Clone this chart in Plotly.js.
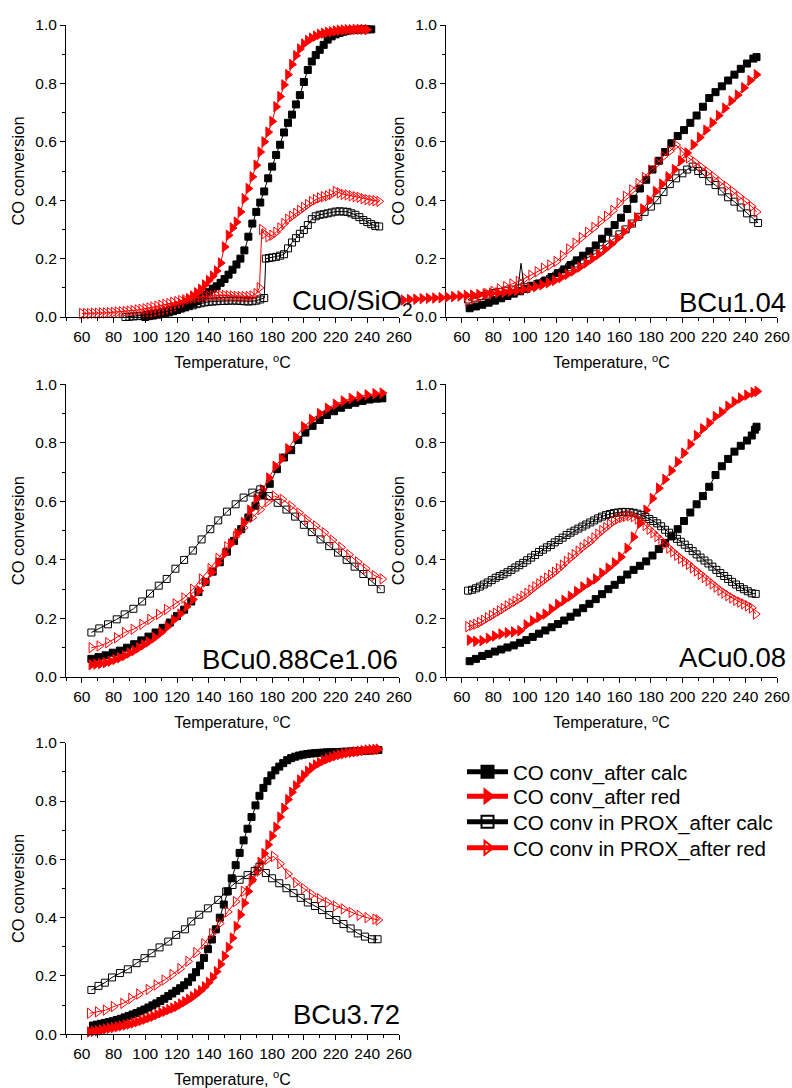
<!DOCTYPE html>
<html>
<head>
<meta charset="utf-8">
<script src="https://cdn.plot.ly/plotly-3.0.1.min.js"></script>
<style>html,body{margin:0;padding:0;background:#fff}#chart{width:792px;height:1088px}</style>
</head>
<body>
<div id="chart"></div>
<script>
// ---------- Panel 1: CuO/SiO2 ----------
const CU_calc_T = [100,102.5,105,107.5,110,112.5,115,117.5,120,122.5,125,127.5,130,132.5,135,137.5,140,142.5,145,147.5,150,152.5,155,157.5,160,162.5,165,167.5,170,172.5,175,177.5,180,182.5,185,187.5,190,192.5,195,197.5,200,202.5,205,207.5,210,212.5,215,217.5,220,222.5,225,227.5,230,232.5,235,237.5,240,242.5];
const CU_calc = [0.0,0.003,0.005,0.008,0.01,0.013,0.016,0.02,0.024,0.029,0.034,0.04,0.047,0.055,0.064,0.075,0.085,0.097,0.105,0.117,0.13,0.145,0.162,0.18,0.2,0.228,0.275,0.32,0.36,0.392,0.43,0.475,0.515,0.555,0.59,0.632,0.665,0.693,0.728,0.76,0.805,0.846,0.875,0.897,0.915,0.932,0.95,0.961,0.968,0.973,0.977,0.98,0.982,0.983,0.984,0.985,0.985,0.985];
const CU_red_T = [100,102.5,105,107.5,110,112.5,115,117.5,120,122.5,125,127.5,130,132.5,135,137.5,140,142.5,145,147.5,150,152.5,155,157.5,160,162.5,165,167.5,170,172.5,175,177.5,180,182.5,185,187.5,190,192.5,195,197.5,200,202.5,205,207.5,210,212.5,215,217.5,220,222.5,225,227.5,230,232.5,235,237.5,240];
const CU_red = [0.008,0.01,0.012,0.015,0.018,0.022,0.027,0.032,0.038,0.045,0.053,0.062,0.072,0.083,0.095,0.11,0.125,0.14,0.158,0.185,0.24,0.28,0.305,0.325,0.36,0.405,0.44,0.48,0.52,0.565,0.6,0.633,0.67,0.72,0.755,0.795,0.83,0.865,0.895,0.918,0.935,0.947,0.955,0.962,0.968,0.972,0.975,0.977,0.98,0.982,0.983,0.984,0.984,0.985,0.985,0.985,0.984];
const CU_proxCalc_T = [87.5,90,92.5,95,97.5,100,102.5,105,107.5,110,112.5,115,117.5,120,122.5,125,127.5,130,132.5,135,137.5,140,142.5,145,147.5,150,152.5,155,157.5,160,162.5,165,167.5,170,172.5,175,176,178,180,182.5,185,187.5,190,192.5,195,197.5,200,202.5,205,207.5,210,212.5,215,217.5,220,222.5,225,227.5,230,232.5,235,237.5,240,242.5,245,247.5];
const CU_proxCalc = [0.0,0.001,0.002,0.003,0.004,0.006,0.008,0.01,0.012,0.015,0.018,0.021,0.024,0.027,0.03,0.033,0.037,0.04,0.044,0.047,0.05,0.052,0.053,0.054,0.055,0.055,0.056,0.056,0.056,0.055,0.054,0.053,0.054,0.056,0.06,0.065,0.2,0.202,0.204,0.206,0.21,0.215,0.235,0.255,0.27,0.285,0.298,0.315,0.335,0.345,0.35,0.352,0.355,0.358,0.361,0.362,0.361,0.36,0.355,0.35,0.342,0.332,0.325,0.318,0.312,0.31];
const CU_proxRed_T = [60,62.5,65,67.5,70,72.5,75,77.5,80,82.5,85,87.5,90,92.5,95,97.5,100,102.5,105,107.5,110,112.5,115,117.5,120,122.5,125,127.5,130,132.5,135,137.5,140,142.5,145,147.5,150,152.5,155,157.5,160,162.5,165,167.5,170,172,173.5,175,177.5,180,182.5,185,187.5,190,192.5,195,197.5,200,202.5,205,207.5,210,212.5,215,217.5,220,222.5,225,227.5,230,232.5,235,237.5,240,242.5,245,247.5];
const CU_proxRed = [0.012,0.012,0.012,0.013,0.013,0.014,0.014,0.015,0.016,0.017,0.018,0.019,0.02,0.022,0.024,0.026,0.028,0.031,0.034,0.037,0.04,0.043,0.046,0.05,0.053,0.056,0.059,0.062,0.065,0.067,0.069,0.071,0.072,0.073,0.074,0.074,0.074,0.073,0.072,0.071,0.07,0.07,0.07,0.072,0.08,0.1,0.3,0.285,0.275,0.28,0.29,0.305,0.32,0.335,0.345,0.355,0.365,0.375,0.385,0.395,0.402,0.408,0.412,0.415,0.42,0.43,0.425,0.42,0.418,0.415,0.412,0.41,0.405,0.402,0.4,0.398,0.396];

// ---------- Panel 2: BCu1.04 ----------
const B104_calc_T = [65,69,73,77,81,85,89,93,97,101,105,109,113,117,121,125,129,133,137,141,145,149,153,157,161,165,169,173,177,181,185,189,193,197,201,205,209,213,217,221,225,229,233,237,241,245,247];
const B104_calc = [0.03,0.036,0.042,0.049,0.056,0.064,0.072,0.08,0.088,0.096,0.105,0.115,0.125,0.137,0.15,0.163,0.178,0.194,0.21,0.225,0.245,0.268,0.292,0.315,0.34,0.37,0.405,0.44,0.47,0.505,0.535,0.565,0.595,0.62,0.64,0.665,0.69,0.72,0.75,0.77,0.79,0.81,0.83,0.85,0.868,0.885,0.89];
const B104_red_T = [23,27,31,35,39,43,47,51,55,59,63,67,71,75,79,83,87,91,95,99,103,107,111,115,119,123,127,131,135,139,143,147,151,155,159,163,167,171,175,179,183,187,191,195,199,203,207,211,215,219,223,227,231,235,239,243,247];
const B104_red = [0.058,0.06,0.061,0.063,0.064,0.065,0.066,0.068,0.07,0.072,0.074,0.075,0.077,0.079,0.081,0.083,0.085,0.088,0.091,0.095,0.099,0.104,0.11,0.117,0.125,0.135,0.146,0.158,0.171,0.185,0.2,0.215,0.232,0.25,0.27,0.292,0.315,0.34,0.37,0.4,0.43,0.455,0.48,0.505,0.535,0.562,0.59,0.615,0.64,0.665,0.69,0.715,0.74,0.76,0.785,0.81,0.83];
const B104_proxCalc_T = [64,68,72,76,80,84,88,92,96,100,104,108,112,116,120,124,128,132,136,140,144,148,152,156,160,164,168,172,176,180,184,188,192,196,200,203,206.5,210,213,217,221,225,229,233,237,241,245,248];
const B104_proxCalc = [0.06,0.066,0.072,0.077,0.082,0.086,0.09,0.094,0.098,0.102,0.107,0.113,0.12,0.13,0.142,0.155,0.17,0.183,0.194,0.204,0.215,0.232,0.248,0.265,0.283,0.3,0.32,0.343,0.36,0.378,0.4,0.428,0.455,0.475,0.492,0.505,0.515,0.5,0.49,0.465,0.452,0.43,0.41,0.395,0.375,0.355,0.335,0.322];
const B104_spike_T = [95.5,97.6,99.7];
const B104_spike = [0.092,0.184,0.098];
const B104_proxRed_T = [64,68,72,76,80,84,88,92,96,100,104,108,112,116,120,124,128,132,136,140,144,148,152,156,160,164,168,172,176,180,184,188,192,196,200,204,208,212,216,220,224,228,232,236,240,244,247];
const B104_proxRed = [0.055,0.062,0.07,0.08,0.088,0.096,0.104,0.113,0.122,0.132,0.143,0.155,0.167,0.178,0.19,0.21,0.233,0.253,0.272,0.29,0.307,0.328,0.345,0.365,0.39,0.413,0.435,0.457,0.478,0.503,0.527,0.55,0.568,0.589,0.565,0.545,0.53,0.513,0.497,0.48,0.462,0.447,0.43,0.413,0.396,0.378,0.36];

// ---------- Panel 3: BCu0.88Ce1.06 ----------
const B088_calc_T = [66,70.5,75,79.5,84,88.5,93,97.5,102,106.5,111,115.5,120,124.5,129,133.5,138,142.5,147,151.5,156,160.5,165,169.5,174,178.5,183,187.5,192,196.5,201,205.5,210,214.5,219,223.5,228,232.5,237,241.5,246,249.5];
const B088_calc = [0.062,0.068,0.074,0.083,0.09,0.1,0.112,0.125,0.138,0.152,0.168,0.186,0.208,0.23,0.258,0.29,0.325,0.36,0.392,0.428,0.465,0.505,0.545,0.585,0.62,0.66,0.71,0.75,0.775,0.81,0.835,0.858,0.878,0.895,0.908,0.92,0.93,0.937,0.943,0.948,0.951,0.952];
const B088_red_T = [66,69,72,75,78,81,84,87,90,93,96,99,102,106,110,114,118,122,126,130,134,138,142,146,150,154,158,162,166,170,174,178,182,186,190,195,200,205,210,215,220,225,230,235,240,245,249.5];
const B088_red = [0.042,0.044,0.046,0.049,0.054,0.06,0.066,0.073,0.082,0.09,0.1,0.11,0.12,0.135,0.152,0.172,0.195,0.215,0.24,0.265,0.295,0.325,0.358,0.39,0.42,0.455,0.49,0.528,0.57,0.61,0.64,0.68,0.72,0.745,0.78,0.82,0.855,0.88,0.9,0.918,0.932,0.943,0.952,0.958,0.964,0.968,0.97];
const B088_proxCalc_T = [66,71,76.5,82,87,92.5,98,103,108.5,113.5,119,124.5,130,135.5,141,146,151.5,157,162,167.5,172.5,178,183.5,189,194.5,200,205,210.5,216,221.5,227,232,237.5,243,248.5];
const B088_proxCalc = [0.152,0.166,0.18,0.197,0.214,0.233,0.258,0.285,0.312,0.335,0.37,0.4,0.432,0.47,0.505,0.535,0.565,0.59,0.613,0.63,0.641,0.618,0.595,0.572,0.548,0.52,0.495,0.47,0.447,0.425,0.4,0.377,0.352,0.325,0.3];
const B088_proxRed_T = [66,71,76.5,82,87,92.5,98,103,108.5,113.5,119,124.5,130,135.5,141,146,151.5,157,162,167.5,172.5,177,181.5,186.5,192,197,202,207.5,213,218,223.5,228.5,234,239,244.5,249.5];
const B088_proxRed = [0.1,0.106,0.117,0.134,0.152,0.163,0.18,0.197,0.214,0.231,0.25,0.27,0.3,0.335,0.37,0.405,0.445,0.48,0.51,0.545,0.572,0.598,0.618,0.607,0.584,0.561,0.538,0.516,0.493,0.468,0.443,0.418,0.393,0.37,0.347,0.335];

// ---------- Panel 4: ACu0.08 ----------
const A008_calc_T = [65,69,73,77,81,85,89,93,97,101,105,109,113,117,121,125,129,133,137,141,145,149,153,157,161,165,169,173,177,181,185,189,193,197,201,205,209,213,217,221,225,229,233,237,241,244,246,247];
const A008_calc = [0.054,0.062,0.072,0.079,0.087,0.094,0.101,0.108,0.117,0.126,0.137,0.148,0.159,0.17,0.181,0.193,0.206,0.22,0.235,0.25,0.266,0.283,0.3,0.315,0.332,0.35,0.366,0.38,0.395,0.415,0.437,0.458,0.48,0.505,0.533,0.562,0.59,0.618,0.65,0.69,0.72,0.745,0.77,0.79,0.808,0.825,0.845,0.855];
const A008_red_T = [65,69,73,77,81,85,89,93,97,101,105,109,113,117,121,125,129,133,137,141,145,149,153,157,161,165,169,173,177,181,185,189,193,197,201,205,209,213,217,221,225,229,233,237,241,245,247.5];
const A008_red = [0.126,0.122,0.124,0.132,0.14,0.147,0.151,0.154,0.158,0.178,0.192,0.204,0.215,0.232,0.248,0.262,0.276,0.292,0.308,0.322,0.335,0.355,0.372,0.39,0.41,0.44,0.478,0.525,0.57,0.61,0.645,0.675,0.705,0.735,0.765,0.795,0.825,0.848,0.868,0.89,0.905,0.925,0.94,0.953,0.963,0.972,0.976];
const A008_prox_T = [64,66.5,69,71.5,74,76.5,79,81.5,84,86.5,89,91.5,94,96.5,99,101.5,104,106.5,109,111.5,114,116.5,119,121.5,124,126.5,129,131.5,134,136.5,139,141.5,144,146.5,149,151.5,154,156.5,159,161.5,164,166.5,169,171.5,174,176.5,179,181.5,184,186.5,189,191.5,194,196.5,199,201.5,204,206.5,209,211.5,214,216.5,219,221.5,224,226.5,229,231.5,234,236.5,239,241.5,244,246.5];
const A008_proxCalc = [0.295,0.298,0.303,0.309,0.316,0.323,0.331,0.339,0.345,0.351,0.358,0.366,0.374,0.382,0.39,0.399,0.408,0.417,0.427,0.435,0.443,0.451,0.46,0.468,0.476,0.485,0.493,0.5,0.507,0.514,0.521,0.528,0.535,0.542,0.548,0.553,0.557,0.56,0.562,0.564,0.564,0.563,0.561,0.558,0.553,0.547,0.54,0.533,0.525,0.515,0.503,0.493,0.483,0.472,0.462,0.452,0.441,0.43,0.419,0.408,0.398,0.388,0.377,0.366,0.355,0.345,0.335,0.325,0.316,0.307,0.3,0.293,0.286,0.284];
const A008_proxRed = [0.172,0.176,0.18,0.186,0.194,0.202,0.21,0.218,0.226,0.234,0.243,0.251,0.259,0.267,0.276,0.286,0.297,0.308,0.318,0.328,0.338,0.348,0.358,0.37,0.382,0.395,0.407,0.418,0.43,0.442,0.452,0.462,0.475,0.488,0.5,0.51,0.522,0.532,0.54,0.545,0.549,0.551,0.548,0.54,0.53,0.518,0.505,0.493,0.48,0.467,0.454,0.44,0.428,0.416,0.405,0.395,0.385,0.373,0.362,0.351,0.34,0.329,0.318,0.307,0.296,0.287,0.278,0.27,0.262,0.256,0.25,0.243,0.236,0.215];

// ---------- Panel 5: BCu3.72 ----------
const B372_calc_T = [67,69.5,72,74.5,77,79.5,82,84.5,87,89.5,92,94.5,97,99.5,102,104.5,107,109.5,112,114.5,117,119.5,122,124.5,127,129.5,132,134.5,137,139.5,142,144.5,147,149.5,152,154.5,157,159.5,162,164.5,167,169.5,172,174.5,177,179.5,182,184.5,187,189.5,192,194.5,197,199.5,202,204.5,207,209.5,212,214.5,217,219.5,222,224.5,227,229.5,232,234.5,237,239.5,242,244.5,247];
const B372_calc = [0.03,0.033,0.036,0.039,0.042,0.045,0.049,0.053,0.058,0.063,0.068,0.073,0.079,0.085,0.092,0.099,0.106,0.114,0.122,0.131,0.14,0.149,0.158,0.168,0.18,0.195,0.213,0.236,0.262,0.292,0.325,0.36,0.4,0.445,0.49,0.535,0.58,0.622,0.665,0.705,0.745,0.785,0.818,0.845,0.868,0.888,0.905,0.918,0.93,0.94,0.947,0.952,0.956,0.959,0.961,0.963,0.964,0.965,0.966,0.967,0.967,0.968,0.968,0.969,0.969,0.97,0.97,0.971,0.972,0.972,0.973,0.974,0.975];
const B372_red_T = [65,67.5,70,72.5,75,77.5,80,82.5,85,87.5,90,92.5,95,97.5,100,102.5,105,107.5,110,112.5,115,117.5,120,122.5,125,127.5,130,132.5,135,137.5,140,142.5,145,147.5,150,152.5,155,157.5,160,162.5,165,167.5,170,172.5,175,177.5,180,182.5,185,187.5,190,192.5,195,197.5,200,202.5,205,207.5,210,212.5,215,217.5,220,222.5,225,227.5,230,232.5,235,237.5,240,242.5,245,247];
const B372_red = [0.008,0.01,0.012,0.015,0.018,0.021,0.023,0.026,0.029,0.032,0.035,0.039,0.043,0.047,0.052,0.057,0.062,0.068,0.074,0.079,0.085,0.09,0.096,0.104,0.112,0.12,0.129,0.139,0.15,0.163,0.178,0.195,0.215,0.24,0.268,0.298,0.33,0.37,0.41,0.45,0.49,0.53,0.56,0.59,0.62,0.65,0.68,0.71,0.745,0.775,0.805,0.83,0.852,0.872,0.888,0.902,0.914,0.924,0.932,0.939,0.945,0.95,0.955,0.959,0.962,0.965,0.967,0.969,0.971,0.973,0.975,0.976,0.977,0.978];
const B372_proxCalc_T = [66,70.5,74.5,79,84,89,94.5,99.5,104,109,114.5,119.5,125,129,134,139.5,146,151,155,159.5,164.5,169,172,176,180,184.5,189,193.5,198,202.5,207,211.5,216,220.5,225,229.5,234,238.5,243,246.5];
const B372_proxCalc = [0.152,0.166,0.177,0.195,0.21,0.223,0.244,0.261,0.278,0.298,0.318,0.341,0.36,0.387,0.41,0.432,0.461,0.49,0.512,0.53,0.546,0.56,0.575,0.553,0.535,0.518,0.501,0.484,0.468,0.452,0.44,0.426,0.409,0.392,0.378,0.363,0.346,0.335,0.326,0.326];
const B372_proxRed_T = [65,70,75,80,86,91,96,102,107,112,117,122,127,132,137,142,147,152,157,162,167,172,177,181,185,190,195,200,205,210,215,220,225,230,235,240,245,247];
const B372_proxRed = [0.072,0.077,0.083,0.095,0.106,0.123,0.138,0.154,0.169,0.186,0.205,0.225,0.25,0.28,0.31,0.345,0.38,0.42,0.455,0.49,0.525,0.56,0.6,0.61,0.585,0.55,0.52,0.5,0.48,0.465,0.452,0.44,0.43,0.418,0.408,0.4,0.395,0.392];

// ---------- labels ----------
const SERIES_NAMES = ['CO conv_after calc','CO conv_after red','CO conv in PROX_after calc','CO conv in PROX_after red'];
const PANEL_LABELS = ['CuO/SiO<sub>2</sub>','BCu1.04','BCu0.88Ce1.06','ACu0.08','BCu3.72'];
const X_TITLE = 'Temperature, <sup>o</sup>C';
const Y_TITLE = 'CO conversion';

// ---------- styling ----------
const FONT = '"Liberation Sans", Arial, Helvetica, sans-serif';
const RED = '#ff0000';
const STY = [
  {color:'#000', symbol:'square', size:7},
  {color:RED, symbol:'triangle-right', size:9},
  {color:'#000', symbol:'square-open', size:7},
  {color:RED, symbol:'triangle-right-open', size:9}
];
const LEGEND_IDS = ['legend','legend2','legend3','legend4'];

const panels = [
  [[CU_calc_T,CU_calc],[CU_red_T,CU_red],[CU_proxCalc_T,CU_proxCalc],[CU_proxRed_T,CU_proxRed]],
  [[B104_calc_T,B104_calc],[B104_red_T,B104_red],[B104_proxCalc_T,B104_proxCalc],[B104_proxRed_T,B104_proxRed]],
  [[B088_calc_T,B088_calc],[B088_red_T,B088_red],[B088_proxCalc_T,B088_proxCalc],[B088_proxRed_T,B088_proxRed]],
  [[A008_calc_T,A008_calc],[A008_red_T,A008_red],[A008_prox_T,A008_proxCalc],[A008_prox_T,A008_proxRed]],
  [[B372_calc_T,B372_calc],[B372_red_T,B372_red],[B372_proxCalc_T,B372_proxCalc],[B372_proxRed_T,B372_proxRed]]
];

const traces = [];
panels.forEach((p, pi) => {
  const ax = pi === 0 ? '' : String(pi + 1);
  p.forEach((s, si) => {
    const st = STY[si];
    // in panel 2 the reduced-sample series runs past the left end of its axis (as in the original):
    // it is drawn on a hidden x axis with the same scale but a wider domain
    const xa = (pi === 1 && si === 1) ? 'x6' : 'x'+ax;
    traces.push({
      type:'scatter', mode:'lines+markers', x:s[0], y:s[1],
      xaxis:xa, yaxis:'y'+ax, name:SERIES_NAMES[si], legend:LEGEND_IDS[si],
      showlegend: pi === 0, cliponaxis:false,
      line:{color:st.color, width:1},
      marker:{symbol:st.symbol, size:st.size, color:st.color, line:{color:st.color, width:1}}
    });
  });
  if (pi === 1) {
    traces.push({type:'scatter', mode:'lines', x:B104_spike_T, y:B104_spike, xaxis:'x2', yaxis:'y2',
      showlegend:false, hoverinfo:'skip', line:{color:'#000', width:1}});
  }
});

const W = 792, H = 1088;
const XL = [66/W, 399/W], XR = [446/W, 777/W];
const Y1 = [1-317/H, 1-25/H], Y2 = [1-677/H, 1-384.3/H], Y3 = [1-1034.3/H, 1-742.7/H];
const doms = [[XL,Y1],[XR,Y1],[XL,Y2],[XR,Y2],[XL,Y3]];
const X_RANGE = [50, 260];

const layout = {
  width:W, height:H, margin:{l:0,r:0,t:0,b:0},
  paper_bgcolor:'#fff', plot_bgcolor:'rgba(0,0,0,0)',
  font:{family:FONT, color:'#000', size:14},
  showlegend:true, annotations:[], hovermode:false
};

// one legend per row so the row spacing can follow the reference
const legendRowTop = [752, 776.5, 802, 828];
LEGEND_IDS.forEach((id, i) => {
  layout[id] = {x:462/W, y:1-legendRowTop[i]/H, xanchor:'left', yanchor:'top', bgcolor:'rgba(0,0,0,0)',
    font:{family:FONT, size:20.5, color:'#000'}, itemsizing:'constant', itemwidth:41};
});

doms.forEach((d, i) => {
  const ax = i === 0 ? '' : String(i + 1);
  layout['xaxis'+ax] = {
    domain:d[0], anchor:'y'+ax, range:X_RANGE, tick0:0, dtick:20,
    ticks:'outside', ticklen:5, tickwidth:1, tickcolor:'#000',
    showline:true, linecolor:'#000', linewidth:1, showgrid:false, zeroline:false,
    tickfont:{family:FONT, size:15.5, color:'#000'},
    minor:{dtick:10, tick0:0, ticks:'outside', ticklen:3, tickwidth:1, tickcolor:'#000', showgrid:false},
    title:{text:X_TITLE, font:{family:FONT, size:16, color:'#000'}, standoff:13},
    fixedrange:true
  };
  layout['yaxis'+ax] = {
    domain:d[1], anchor:'x'+ax, range:[0,1], tick0:0, dtick:0.2, tickformat:'.1f',
    ticks:'outside', ticklen:5, tickwidth:1, tickcolor:'#000',
    showline:true, linecolor:'#000', linewidth:1, showgrid:false, zeroline:false,
    tickfont:{family:FONT, size:15.5, color:'#000'},
    minor:{dtick:0.1, tick0:0, ticks:'outside', ticklen:3, tickwidth:1, tickcolor:'#000', showgrid:false},
    title:{text:Y_TITLE, font:{family:FONT, size:16.5, color:'#000'}, standoff:6},
    fixedrange:true
  };
});

// hidden x axis sharing panel 2's scale, extended to the left
const extLeftPx = 398;
const pxPerDeg = (XR[1]-XR[0])*W / (X_RANGE[1]-X_RANGE[0]);
layout.xaxis6 = {
  domain:[extLeftPx/W, XR[1]], anchor:'y2', visible:false, showgrid:false, zeroline:false,
  range:[X_RANGE[0] - (XR[0]*W - extLeftPx)/pxPerDeg, X_RANGE[1]], fixedrange:true
};

const labelPos = [
  {x:290, y:302, xa:'left'},
  {x:788, y:302, xa:'right'},
  {x:400, y:659, xa:'right'},
  {x:788, y:657, xa:'right'},
  {x:402, y:1014, xa:'right'}
];
PANEL_LABELS.forEach((t, i) => {
  layout.annotations.push({text:t, xref:'paper', yref:'paper', x:labelPos[i].x/W, y:1-labelPos[i].y/H,
    xanchor:labelPos[i].xa, yanchor:'middle', showarrow:false, font:{family:FONT, size:27.5, color:'#000'}});
});

Plotly.newPlot('chart', traces, layout, {staticPlot:true, displayModeBar:false});
</script>
</body>
</html>
